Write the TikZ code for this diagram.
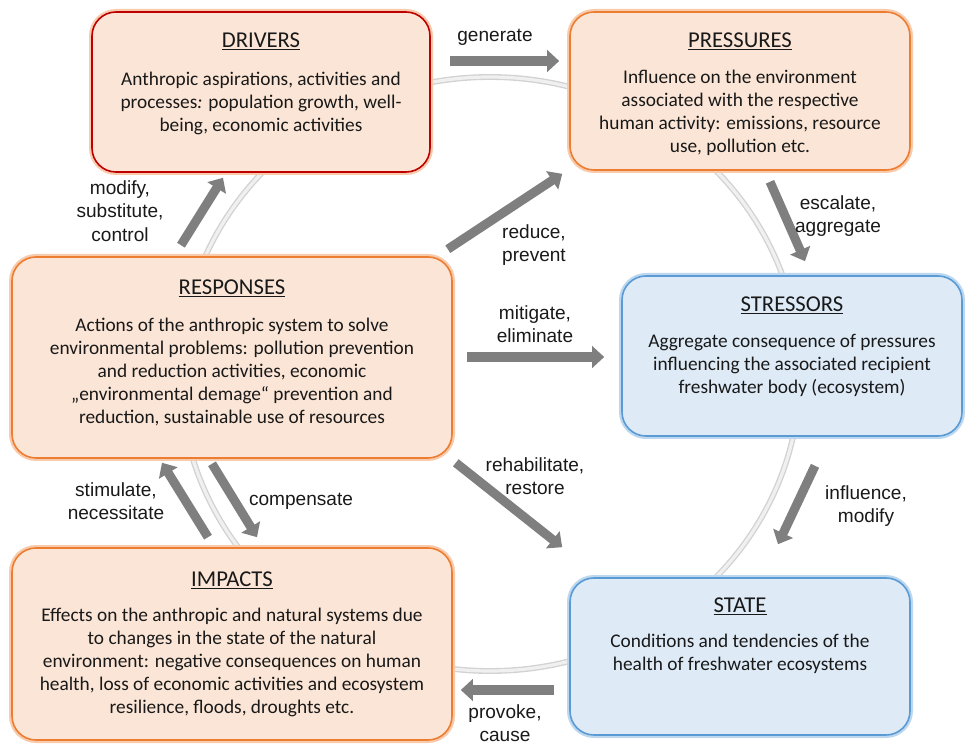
\documentclass[tikz,border=0pt]{standalone}
\usepackage{fontspec}
\setmainfont{Carlito}
\newfontfamily\labelfont{Liberation Sans}
\usetikzlibrary{arrows.meta,positioning}

\definecolor{peach}{RGB}{251,229,214}
\definecolor{skyfill}{RGB}{222,235,247}
\definecolor{orangeline}{RGB}{237,125,49}
\definecolor{orangeglow}{RGB}{248,203,173}
\definecolor{redline}{RGB}{192,0,0}
\definecolor{blueline}{RGB}{91,155,213}
\definecolor{blueglow}{RGB}{189,215,238}
\definecolor{arrowgray}{RGB}{127,127,127}
\definecolor{ringedge}{RGB}{210,210,210}
\definecolor{ringfill}{RGB}{240,240,240}

\begin{document}
\begin{tikzpicture}[x=0.75pt,y=0.75pt,yscale=-1,xscale=1,
  box/.style={rounded corners=18pt, line width=1.2pt, inner sep=0pt},
  orangebox/.style={box, draw=orangeline, fill=peach, preaction={draw=orangeglow, line width=4.5pt}},
  redbox/.style={box, draw=redline, fill=peach, preaction={draw=orangeglow, line width=4.5pt}},
  bluebox/.style={box, draw=blueline, fill=skyfill, preaction={draw=blueglow, line width=4.5pt}},
  title/.style={anchor=base, inner sep=0pt, font=\fontsize{17}{20}\selectfont, text=black!90},
  body/.style={anchor=north, inner sep=0pt, align=center, font=\fontsize{14.5}{17.25}\selectfont, text=black!90},
  flow/.style={draw=arrowgray, line width=6.8pt, -{Triangle[length=9pt,width=16pt]}},
  lbl/.style={inner sep=0pt, align=center, font=\labelfont\fontsize{14.3}{17.6}\selectfont, text=black!90}
]
\useasboundingbox (0,0) rectangle (965,745);

%Ring in the background
\draw [draw=ringedge, double=ringfill, double distance=2.4pt, line width=1pt] (490,374) ellipse [x radius=310, y radius=297];

%Shape: Boxes
\node [redbox, minimum width=253.5pt, minimum height=120pt] (drivers) at (261,92) {};
\node [orangebox, minimum width=255pt, minimum height=118.5pt] (pressures) at (740,91) {};
\node [orangebox, minimum width=330pt, minimum height=150.75pt] (responses) at (232,357.5) {};
\node [bluebox, minimum width=255pt, minimum height=120pt] (stressors) at (792,356) {};
\node [orangebox, minimum width=330pt, minimum height=144pt] (impacts) at (232,644) {};
\node [bluebox, minimum width=255pt, minimum height=117.75pt] (state) at (740,656.5) {};

% Text Node
\node [title] (driversT) at ([shift={(0,36)}]drivers.north) {\underline{DRIVERS}};
\node [body] (driversB) at ([shift={(0,61)}]drivers.north) {Anthropic aspirations, activities and\\processes\textit{:} population growth, well-\\being, economic activities};
% Text Node
\node [title] (pressuresT) at ([shift={(0,36)}]pressures.north) {\underline{PRESSURES}};
\node [body] (pressuresB) at ([shift={(0,59)}]pressures.north) {Influence on the environment\\associated with the respective\\human activity: emissions, resource\\use, pollution etc.};
% Text Node
\node [title] (responsesT) at ([shift={(0,38)}]responses.north) {\underline{RESPONSES}};
\node [body] (responsesB) at ([shift={(0,62)}]responses.north) {Actions of the anthropic system to solve\\environmental problems: pollution prevention\\and reduction activities, economic\\„environmental demage“ prevention and\\reduction, sustainable use of resources};
% Text Node
\node [title] (stressorsT) at ([shift={(0,36)}]stressors.north) {\underline{STRESSORS}};
\node [body] (stressorsB) at ([shift={(0,59)}]stressors.north) {Aggregate consequence of pressures\\influencing the associated recipient\\freshwater body (ecosystem)};
% Text Node
\node [title] (impactsT) at ([shift={(0,39)}]impacts.north) {\underline{IMPACTS}};
\node [body] (impactsB) at ([shift={(0,61)}]impacts.north) {Effects on the anthropic and natural systems due\\to changes in the state of the natural\\environment: negative consequences on human\\health, loss of economic activities and ecosystem\\resilience, floods, droughts etc.};
% Text Node
\node [title] (stateT) at ([shift={(0,35)}]state.north) {\underline{STATE}};
\node [body] (stateB) at ([shift={(0,57)}]state.north) {Conditions and tendencies of the\\health of freshwater ecosystems};

%Arrows
\draw [flow] ([shift={(19,-31)}]drivers.east) -- ([shift={(-10,-30)}]pressures.west);
\draw [flow] ([shift={(-51,-11)}]responses.north) -- ([shift={(-38,5)}]drivers.south);
\draw [flow] ([shift={(-5,-7)}]responses.north east) -- ([shift={(-7,3)}]pressures.south west);
\draw [flow] ([shift={(30,11)}]pressures.south) -- ([shift={(13,-14)}]stressors.north);
\draw [flow] ([shift={(14,-0.5)}]responses.east) -- ([shift={(-17,1)}]stressors.west);
\draw [flow] ([shift={(3,4)}]responses.south east) -- ([shift={(-7,-30)}]state.north west);
\draw [flow] ([shift={(23,29)}]stressors.south) -- ([shift={(38,-33)}]state.north);
\draw [flow] ([shift={(-15,33.5)}]state.west) -- ([shift={(8,46)}]impacts.east);
\draw [flow] ([shift={(-24,-10)}]impacts.north) -- ([shift={(-70,4)}]responses.south);
\draw [flow] ([shift={(-20,5)}]responses.south) -- ([shift={(25,-10)}]impacts.north);

% Text Node
\node [lbl] (lgenerate) at (495,37) {generate};
\node [lbl] (lmodify) at (120,211) {modify,\\substitute,\\control};
\node [lbl] (lreduce) at (534,245) {reduce,\\prevent};
\node [lbl] (lescalate) at (838,216) {escalate,\\aggregate};
\node [lbl] (lmitigate) at (535,324) {mitigate,\\eliminate};
\node [lbl] (lrehab) at (535,476) {rehabilitate,\\restore};
\node [lbl] (linfluence) at (866,506) {influence,\\modify};
\node [lbl] (lprovoke) at (505,723) {provoke,\\cause};
\node [lbl] (lstimulate) at (116,501) {stimulate,\\necessitate};
\node [lbl] (lcompensate) at (301,501) {compensate};

\end{tikzpicture}
\end{document}
